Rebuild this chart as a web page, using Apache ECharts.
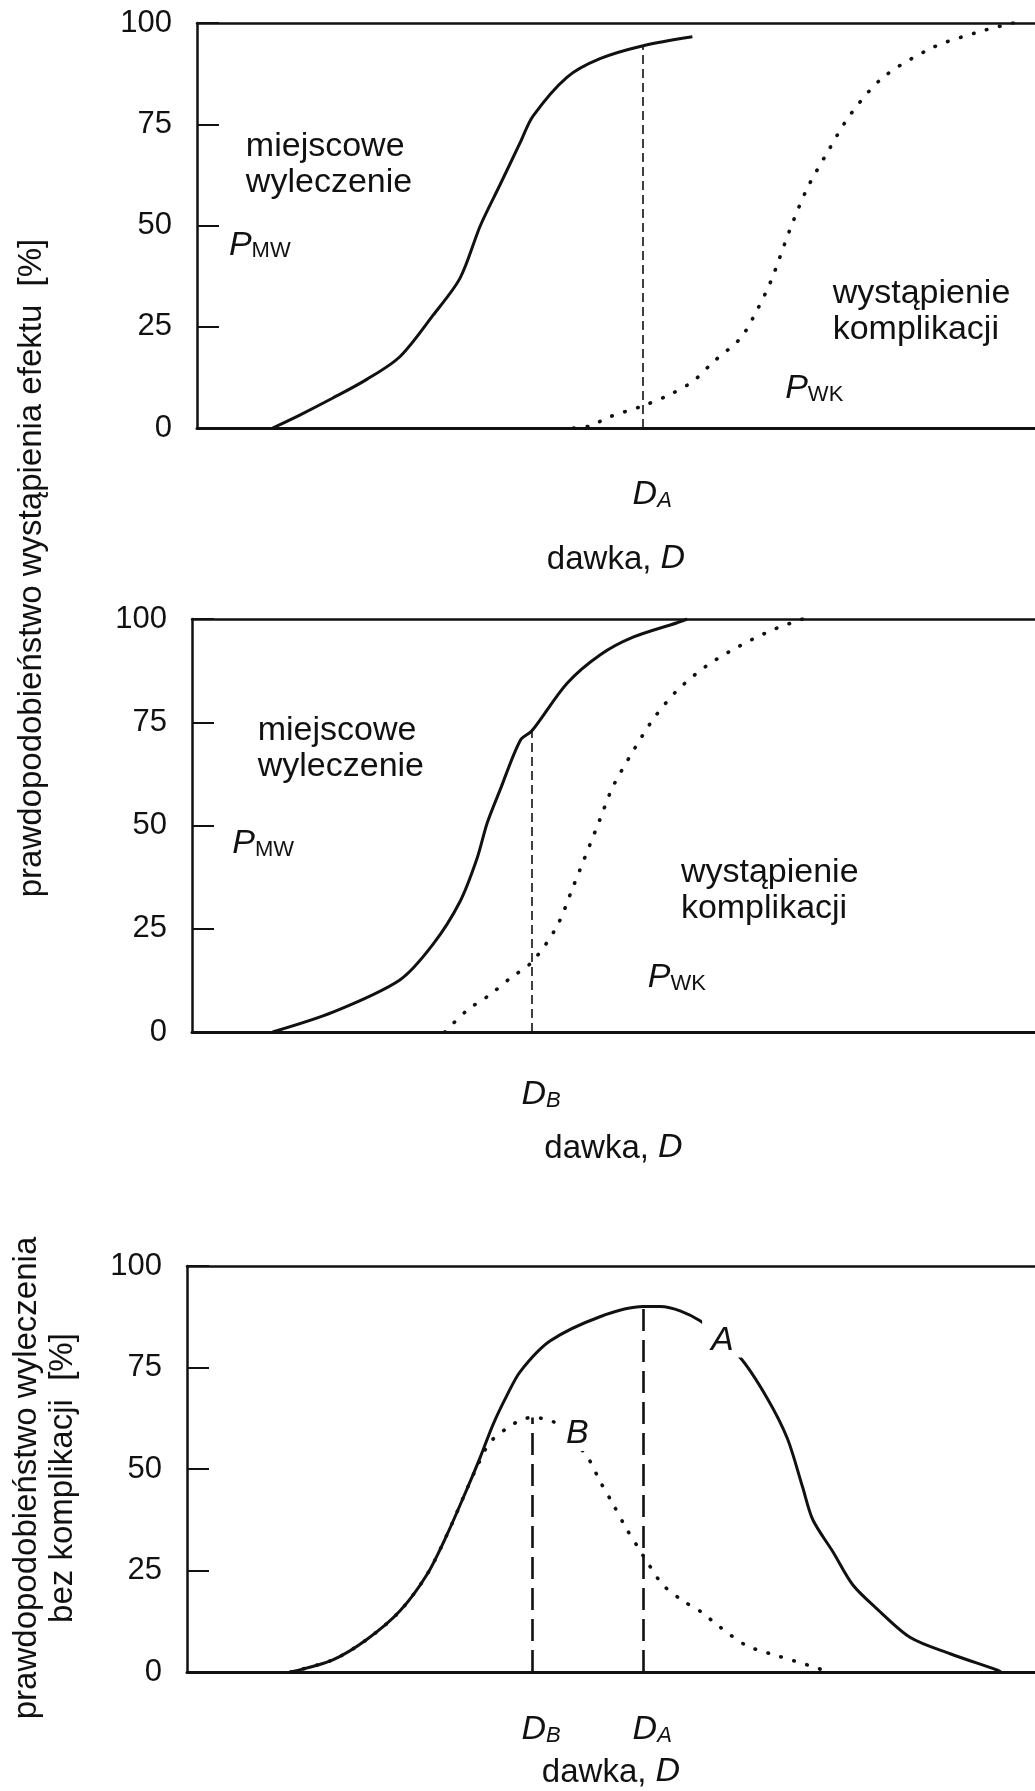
<!DOCTYPE html>
<html>
<head>
<meta charset="utf-8">
<title>Prawdopodobieństwo wyleczenia i komplikacji w funkcji dawki</title>
<script src="https://cdn.jsdelivr.net/npm/echarts@6/dist/echarts.min.js"></script>
<style>
  html, body { margin: 0; padding: 0; background: #fff; }
  #chart { width: 1035px; height: 1791px; }
</style>
</head>
<body>
<div id="chart"></div>
<script>
// ---- data (dose in arbitrary units, probability in %) ----
const Y_TICKS = [0, 25, 50, 75, 100];
const D_A = 53.8;   // optimal dose, wide window
const D_B = 40.7;   // optimal dose, narrow window

// Panel 1: local cure (P_MW) and complications (P_WK), well separated
const cure1 = [[10.1, 0], [13.3, 3.2], [17.2, 7.4], [21.2, 12], [25.1, 17.6], [29.0, 27.8],
  [32.2, 37], [34.6, 50], [36.9, 60], [39.3, 70.5], [40.8, 77], [44.8, 86.6], [48.7, 91.2],
  [53.8, 94.4], [59.6, 96.6]];
const compl1 = [[45.6, 0], [47.5, 0.5], [49.9, 2.8], [53.8, 5.5], [57.0, 8.3], [59.7, 11.6], [62.0, 16.2],
  [65.2, 22], [66.7, 27], [68.8, 36], [71.1, 49], [73.1, 59], [75.5, 68], [78.2, 77.3],
  [82.1, 86.6], [88.0, 94], [93.2, 97.7], [97.4, 100]];

// Panel 2: curves close together
const cure2 = [[10.1, 0], [17.2, 4.8], [25.1, 12.6], [29.0, 21.2], [32.2, 31.6], [34.2, 42], [35.4, 50.6],
  [36.9, 58.5], [39.3, 70.6], [40.7, 73], [44.8, 84.4], [48.7, 91.3], [52.6, 95.6], [57.8, 99.1], [59.0, 100]];
const compl2 = [[30.4, 0], [33.0, 5.2], [35.7, 9], [38.1, 13], [40.7, 17], [43.6, 25.5], [45.5, 35],
  [48.7, 51.5], [50.2, 59.3], [52.6, 68], [55.0, 75.8], [57.8, 82.7], [61.3, 88.7], [65.2, 93.5],
  [69.1, 97.4], [72.6, 100]];

// Panel 3: probability of cure without complications
const curveA = [[12.2, 0], [17.2, 3], [21.2, 8], [25.1, 15], [28.3, 24], [30.7, 34], [33.0, 45], [34.6, 53],
  [36.1, 61], [37.7, 68], [39.3, 74], [42.8, 81.5], [48.7, 87.5], [53.8, 90], [55.8, 90], [60.5, 86.5],
  [65.2, 77.5], [68.4, 67.5], [70.8, 57.5], [72.6, 45.5], [73.8, 37.5], [76.2, 29.5], [78.5, 21.5],
  [81.4, 15.5], [85.3, 8.5], [90.0, 4.5], [95.5, 0.5], [96.0, 0]];
const curveB = [[12.2, 0], [17.2, 3], [21.2, 8], [25.1, 15], [28.3, 24], [30.7, 34], [33.0, 45], [34.3, 51],
  [35.7, 56.5], [37.7, 60], [39.3, 62], [40.7, 62.7], [42.8, 62], [44.0, 60.5], [47.2, 53], [48.7, 47],
  [50.2, 41.5], [51.9, 35], [53.1, 31], [54.3, 27], [56.1, 21.5], [58.5, 17.5], [60.5, 15], [62.9, 11],
  [66.0, 6.5], [69.6, 4], [74.3, 1], [75.5, 0]];

// ---- styling helpers ----
const FONT = "'Liberation Sans', Arial, Helvetica, sans-serif";
const INK = '#111';

function valueAt(series, x) {
  const p = series.find(q => q[0] === x);
  return p ? p[1] : 0;
}

const rich = {
  t:  { fontFamily: FONT, fontSize: 33, color: INK, lineHeight: 38, verticalAlign: 'bottom' },
  i:  { fontFamily: FONT, fontSize: 34, fontStyle: 'italic', color: INK, lineHeight: 38, verticalAlign: 'bottom' },
  s:  { fontFamily: FONT, fontSize: 22, color: INK, lineHeight: 23, verticalAlign: 'bottom' },
  si: { fontFamily: FONT, fontSize: 22, fontStyle: 'italic', color: INK, lineHeight: 23, verticalAlign: 'bottom' }
};

// one horizontal dose scale shared by all three panels
const DOSE_ORIGIN = 187, DOSE_PX = 8.48;
const grids = [
  { left: 197, top: 23,   right: 0, height: 405 },
  { left: 192, top: 619,  right: 0, height: 413 },
  { left: 187, top: 1266, right: 0, height: 406 }
];
const doseMin = g => (g.left - DOSE_ORIGIN) / DOSE_PX;

const doseLabel = { [D_A]: '{i|D}{si|A}', [D_B]: '{i|D}{si|B}' };
const axisTicks = [[D_A], [D_B], [D_B, D_A]];
const labelMargin = [46, 42, 37];
const nameGap = [110, 95, 79];

const xAxes = [], yAxes = [];
grids.forEach((g, k) => {
  xAxes.push({
    gridIndex: k, type: 'value', position: 'bottom', min: doseMin(g), max: 100,
    axisLine: { show: true, onZero: false, lineStyle: { color: INK, width: 3 } },
    axisTick: { show: false }, splitLine: { show: false },
    axisLabel: {
      show: true, customValues: axisTicks[k], margin: labelMargin[k],
      padding: [0, 0, 0, 18],
      formatter: v => doseLabel[v] || '', rich: rich
    },
    name: '{t|dawka, }{i|D}', nameLocation: 'middle', nameGap: nameGap[k],
    nameTextStyle: { rich: rich }
  });
  // upper frame line of each panel
  xAxes.push({
    gridIndex: k, type: 'value', position: 'top', min: doseMin(g), max: 100,
    axisLine: { show: true, onZero: false, lineStyle: { color: INK, width: 2.5 } },
    axisTick: { show: false }, axisLabel: { show: false }, splitLine: { show: false }
  });
  yAxes.push({
    gridIndex: k, type: 'value', min: Y_TICKS[0], max: Y_TICKS[Y_TICKS.length - 1],
    interval: Y_TICKS[1] - Y_TICKS[0],
    axisLine: { show: true, onZero: false, lineStyle: { color: INK, width: 2.5 } },
    axisTick: { show: true, inside: true, length: 22, lineStyle: { color: INK, width: 2 } },
    axisLabel: { color: INK, fontFamily: FONT, fontSize: 31, margin: 25 },
    splitLine: { show: false }
  });
});

const solid = { color: INK, width: 3 };
const dotted = { color: INK, width: 3.6, type: [0.5, 13], cap: 'round' };
const thinDash = { color: INK, width: 1.6, type: [9, 5] };
const longDash = { color: INK, width: 2.6, type: [22, 9] };

function curve(k, data, style, drop) {
  const s = {
    type: 'line', xAxisIndex: 2 * k, yAxisIndex: k, data: data,
    showSymbol: false, smooth: 0.3, silent: true,
    lineStyle: style, z: 3
  };
  if (drop) {
    s.markLine = {
      symbol: ['none', 'none'], silent: true, label: { show: false },
      lineStyle: drop.style,
      data: drop.at.map(x => [{ coord: [x, 0] }, { coord: [x, valueAt(data, x)] }])
    };
  }
  return s;
}

function notes(k, items) {
  return {
    type: 'scatter', xAxisIndex: 2 * k, yAxisIndex: k, symbolSize: 1, silent: true, z: 10,
    itemStyle: { color: 'rgba(0,0,0,0)', opacity: 1 },
    label: {
      show: true, position: [0, 0], align: 'left', verticalAlign: 'middle', opacity: 1,
      fontFamily: FONT, fontSize: 34, lineHeight: 36, color: INK, rich: rich
    },
    data: items
  };
}

const option = {
  animation: false,
  backgroundColor: '#fff',
  grid: grids.map(g => Object.assign({ containLabel: false, outerBoundsMode: 'none' }, g)),
  xAxis: xAxes,
  yAxis: yAxes,
  series: [
    curve(0, cure1, solid, { at: [D_A], style: thinDash }),
    curve(0, compl1, dotted),
    curve(1, cure2, solid, { at: [D_B], style: thinDash }),
    curve(1, compl2, dotted),
    curve(2, curveA, solid, { at: [D_A], style: longDash }),
    curve(2, curveB, dotted, { at: [D_B], style: longDash }),
    notes(0, [
      { value: [7.0, 65], label: { formatter: 'miejscowe\nwyleczenie' } },
      { value: [5.0, 45.5], label: { formatter: '{i|P}{s|MW}' } },
      { value: [76.2, 28.5], label: { formatter: 'wystąpienie\nkomplikacji' } },
      { value: [70.6, 10], label: { formatter: '{i|P}{s|WK}' } }
    ]),
    notes(1, [
      { value: [8.4, 68.5], label: { formatter: 'miejscowe\nwyleczenie' } },
      { value: [5.4, 46], label: { formatter: '{i|P}{s|MW}' } },
      { value: [58.3, 34], label: { formatter: 'wystąpienie\nkomplikacji' } },
      { value: [54.4, 13.5], label: { formatter: '{i|P}{s|WK}' } }
    ]),
    notes(2, [
      { value: [63.2, 82], label: { formatter: '{i|A}', align: 'center', backgroundColor: '#fff', padding: [0, 9] } },
      { value: [46.1, 59], label: { formatter: '{i|B}', align: 'center', backgroundColor: '#fff', padding: [0, 5] } }
    ])
  ],
  graphic: [
    {
      type: 'text', x: 32, y: 568, rotation: Math.PI / 2, silent: true,
      style: {
        text: 'prawdopodobieństwo wystąpienia efektu  [%]',
        fontFamily: FONT, fontSize: 33, fill: INK, align: 'center', verticalAlign: 'middle'
      }
    },
    {
      type: 'text', x: 45, y: 1478, rotation: Math.PI / 2, silent: true,
      style: {
        text: 'prawdopodobieństwo wyleczenia\nbez komplikacji  [%]',
        fontFamily: FONT, fontSize: 33, lineHeight: 36, fill: INK, align: 'center', verticalAlign: 'middle'
      }
    }
  ]
};

const chart = echarts.init(document.getElementById('chart'), null, { renderer: 'canvas' });
chart.setOption(option);
</script>
</body>
</html>
